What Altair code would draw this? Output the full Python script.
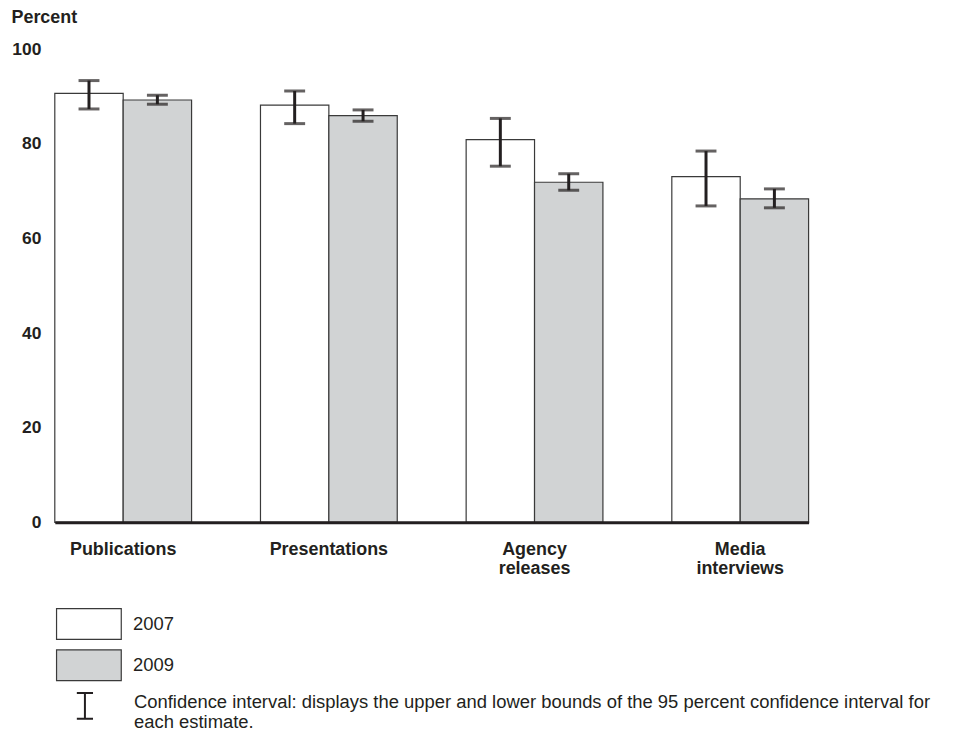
import altair as alt
import pandas as pd

categories = ["Publications", "Presentations", "Agency releases", "Media interviews"]
years = ["2007", "2009"]
values_2007 = [90.7, 88.2, 80.9, 73.1]
values_2009 = [89.3, 86.0, 71.9, 68.4]
lower_2007 = [87.4, 84.3, 75.3, 66.9]
upper_2007 = [93.4, 91.2, 85.4, 78.5]
lower_2009 = [88.4, 84.8, 70.2, 66.5]
upper_2009 = [90.3, 87.2, 73.7, 70.5]
y_ticks = [0, 20, 40, 60, 80, 100]
ci_label = ("Confidence interval: displays the upper and lower bounds of the 95 percent "
            "confidence interval for|each estimate.")

rows = []
for yr, vals, los, his in [("2007", values_2007, lower_2007, upper_2007),
                           ("2009", values_2009, lower_2009, upper_2009)]:
    for c, v, lo, hi in zip(categories, vals, los, his):
        rows.append({"category": c, "year": yr, "value": v, "lo": lo, "hi": hi, "ci": ci_label})
df = pd.DataFrame(rows)

FONT = "Liberation Sans"
INK = "#231f20"
EDGE = "#3a3a3a"

BOX_PATH = "M-2,-0.95L2,-0.95L2,0.95L-2,0.95Z"
I_PATH = "M-0.5,-0.55L0.5,-0.55M0,-0.55L0,1.05M-0.5,1.05L0.5,1.05"

x_enc = alt.X(
    "category:N", sort=categories,
    scale=alt.Scale(paddingInner=0.335, paddingOuter=0),
    axis=alt.Axis(title=None, labelAngle=0, labelExpr="split(datum.label, ' ')",
                  labelFont=FONT, labelFontSize=18, labelFontWeight="bold", labelColor=INK,
                  labelPadding=18, labelLineHeight=19, labelBaseline="top", ticks=False,
                  domainColor=INK, domainWidth=3, zindex=1),
)
xoff = alt.XOffset("year:N", sort=years, scale=alt.Scale(paddingInner=0, paddingOuter=0))

y_axis = alt.Axis(values=y_ticks, grid=False, domain=False, ticks=False,
                  labelFont=FONT, labelFontSize=17.5, labelFontWeight="bold", labelColor=INK,
                  labelPadding=14,
                  title="Percent", titleAngle=0, titleX=-44, titleY=-32,
                  titleAlign="left", titleBaseline="middle", titleFont=FONT,
                  titleFontSize=18, titleFontWeight="bold", titleColor=INK)
y_scale = alt.Scale(domain=[0, 100], nice=False)

bars = alt.Chart(df).mark_bar(stroke=EDGE, strokeWidth=1.2).encode(
    x=x_enc, xOffset=xoff,
    y=alt.Y("value:Q", scale=y_scale, axis=y_axis),
    fill=alt.Fill("year:N", sort=years,
                  scale=alt.Scale(domain=years, range=["#ffffff", "#d1d3d4"]),
                  legend=alt.Legend(title=None, orient="none", legendX=17.25, legendY=560,
                                    symbolType=BOX_PATH, symbolSize=1056,
                                    symbolStrokeColor=EDGE, symbolStrokeWidth=1.2,
                                    labelFont=FONT, labelFontSize=18.5, labelColor=INK,
                                    labelOffset=27.25, rowPadding=5.5, padding=0,
                                    direction="vertical")),
)

rules = alt.Chart(df).mark_rule(strokeWidth=3).encode(
    x=x_enc, xOffset=xoff,
    y=alt.Y("lo:Q", scale=y_scale, axis=y_axis),
    y2="hi:Q",
    stroke=alt.Stroke("ci:N", scale=alt.Scale(range=[INK]),
                      legend=alt.Legend(title=None, orient="none", legendX=12.75, legendY=637.75,
                                        symbolType=I_PATH, symbolSize=1056, symbolStrokeWidth=2,
                                        labelExpr="split(datum.label, '|')", labelLimit=1000,
                                        labelFont=FONT, labelFontSize=18.5, labelColor=INK,
                                        labelOffset=31.75, padding=0)),
)

ticks = alt.Chart(df).transform_fold(["lo", "hi"], as_=["bound", "pct"]).mark_tick(
    color=INK, thickness=3, size=21
).encode(
    x=x_enc, xOffset=xoff,
    y=alt.Y("pct:Q", scale=y_scale, axis=y_axis),
)

chart = alt.layer(bars, rules, ticks).properties(
    width=757, height=475,
    autosize=alt.AutoSizeParams(type="none"),
    padding={"left": 47, "top": 40, "right": 140, "bottom": 209},
    background="white",
).configure_view(stroke=None)

chart.save("out.html", embed_options={"renderer": "svg", "actions": False})
